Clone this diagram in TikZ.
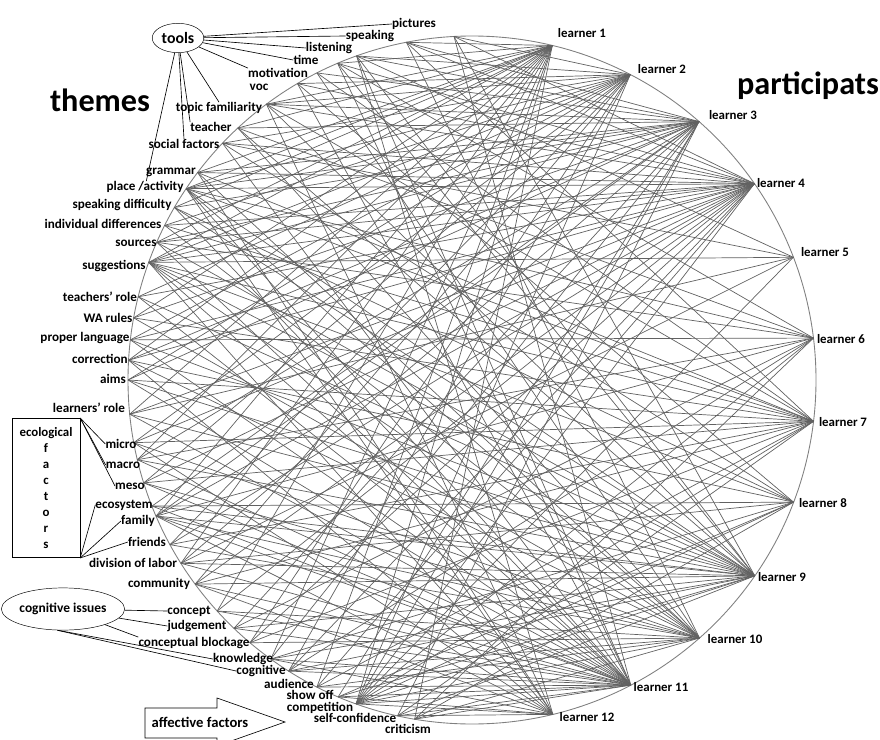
\documentclass[tikz,border=0pt]{standalone}
\usepackage{fontspec}
\setmainfont{Carlito}
\usetikzlibrary{shapes.geometric}

\begin{document}
\begin{tikzpicture}[x=0.03cm, y=-0.03cm,
  theme/.style={font=\bfseries\fontsize{11.2}{13}\selectfont, inner sep=0pt},
  learner/.style={font=\bfseries\fontsize{11}{13}\selectfont, inner sep=0.5pt},
  title/.style={font=\bfseries\fontsize{27.5}{32}\selectfont, inner sep=0pt},
  link/.style={draw=black!62, line width=0.6pt},
  rim/.style={draw=black!50, line width=0.75pt},
  tie/.style={draw=black, line width=0.55pt},
]
  \useasboundingbox (0,0) rectangle (880,740);

  % Ring
  \coordinate (c) at (472,380);
  \draw[rim] (c) circle [radius=344];

  % Points on the ring
  \foreach \k/\a in {1/76.5, 2/62.6, 3/48.7, 4/34.8, 5/20.9, 6/7, 7/-6.9,
                     8/-20.8, 9/-34.7, 10/-48.6, 11/-62.5, 12/-76.4}
    \path (c) ++(-\a:344) coordinate (l\k);
  \foreach \i/\a in {1/93, 2/101, 3/109.6, 4/113, 5/116.8, 6/120.5, 7/126.7,
                     8/132.9, 9/136.5, 10/142.9, 11/146.2, 12/149.9, 13/153.3,
                     14/156.4, 15/160, 16/166, 17/169.6, 18/173.3, 19/176.7,
                     20/180, 21/185.7, 22/190.5, 23/193.4, 24/197.4, 25/201.5,
                     26/203.3, 27/208.6, 28/212.2, 29/216.4, 30/222.2, 31/226.2,
                     32/229.8, 33/234.2, 34/237.8, 35/243.2, 36/247.1, 37/250.3,
                     38/257.5, 39/260.4}
    \path (c) ++(-\a:344) coordinate (t\i);

  % Links learner -- theme
  \foreach \t in {2,4,7,8,10,11,12,14,15,17,19,21,23,26,28,30,33,35,37,39} \draw[link] (l1) -- (t\t);
  \foreach \t in {1,3,6,7,9,11,13,15,16,18,20,22,24,27,29,32,34,37} \draw[link] (l2) -- (t\t);
  \foreach \t in {2,3,5,7,8,10,11,12,14,15,17,19,20,23,25,26,28,31,33,36,37,38} \draw[link] (l3) -- (t\t);
  \foreach \t in {1,2,4,6,7,9,10,11,13,14,15,16,18,19,21,22,24,26,27,29,30,32,34,35,37} \draw[link] (l4) -- (t\t);
  \foreach \t in {3,9,15,21,28,37} \draw[link] (l5) -- (t\t);
  \foreach \t in {4,8,11,14,18,23,26,31,34,37,39} \draw[link] (l6) -- (t\t);
  \foreach \t in {2,5,7,10,11,13,15,17,20,22,24,27,29,32,35,37,38} \draw[link] (l7) -- (t\t);
  \foreach \t in {6,9,12,15,19,25,28,33,36,37,39} \draw[link] (l8) -- (t\t);
  \foreach \t in {1,3,4,7,8,11,12,14,15,16,18,20,21,23,25,26,28,29,31,33,34,36,37,38} \draw[link] (l9) -- (t\t);
  \foreach \t in {2,5,8,10,11,13,15,17,19,22,24,26,27,30,32,34,35,37,39} \draw[link] (l10) -- (t\t);
  \foreach \t in {1,3,4,6,9,11,12,14,15,16,18,20,21,23,24,25,26,28,29,30,31,33,34,35,36,37,38,39} \draw[link] (l11) -- (t\t);
  \foreach \t in {3,7,10,11,15,19,22,26,29,33,36,37,38} \draw[link] (l12) -- (t\t);

  % Titles
  \node[title] (themes) at (100,100) {themes};
  \node[title] (participats) at (808,86) {participats};

  % Learners
  \node[learner] (lab1) at (582,33) {learner 1};
  \node[learner] (lab2) at (662,69) {learner 2};
  \node[learner] (lab3) at (733,115) {learner 3};
  \node[learner] (lab4) at (781,183) {learner 4};
  \node[learner] (lab5) at (825,252) {learner 5};
  \node[learner] (lab6) at (841,339) {learner 6};
  \node[learner] (lab7) at (843,422) {learner 7};
  \node[learner] (lab8) at (823,503) {learner 8};
  \node[learner] (lab9) at (782,577) {learner 9};
  \node[learner] (lab10) at (735,639) {learner 10};
  \node[learner] (lab11) at (661,687) {learner 11};
  \node[learner] (lab12) at (587,717) {learner 12};

  % Tools
  \node[ellipse, draw, minimum width=44pt, minimum height=25pt, inner sep=0pt,
        font=\bfseries\fontsize{13.5}{15}\selectfont] (tools) at (178,38) {tools};
  \node[theme] (pictures) at (414,24) {pictures};
  \node[theme] (speaking) at (370,36) {speaking};
  \node[theme] (listening) at (329,48) {listening};
  \node[theme] (time) at (306,60) {time};
  \node[theme] (motivation) at (278,73) {motivation};
  \node[theme] (voc) at (259,87) {voc};
  \node[theme] (topic) at (219,108) {topic familiarity};
  \node[theme] (teacher) at (211,127) {teacher};
  \node[theme] (social) at (184,144) {social factors};
  \node[theme] (grammar) at (171,172) {grammar};
  \node[theme] (place) at (145,187) {place /activity};
  \draw[tie] (tools) -- (pictures.west);
  \draw[tie] (tools) -- (speaking.west);
  \draw[tie] (tools) -- (listening.west);
  \draw[tie] (tools) -- (time.west);
  \draw[tie] (tools) -- (motivation.north west);
  \draw[tie] (tools) -- (topic.north);
  \draw[tie] (tools) -- (teacher.north west);
  \draw[tie] (tools) -- (social.north);
  \draw[tie] (tools) -- (place);

  % Themes
  \node[theme] (speakdiff) at (122,205) {speaking difficulty};
  \node[theme] (indiv) at (103,224) {individual differences};
  \node[theme] (sources) at (136,243) {sources};
  \node[theme] (suggest) at (114,266) {suggestions};
  \node[theme] (trole) at (100,297) {teachers' role};
  \node[theme] (warules) at (108,318) {WA rules};
  \node[theme] (proper) at (85,338) {proper language};
  \node[theme] (correction) at (100,359) {correction};
  \node[theme] (aims) at (113,379) {aims};
  \node[theme] (lrole) at (89,408) {learners' role};

  % Ecological factors
  \node[draw, minimum width=58pt, minimum height=119pt, inner sep=0pt, align=center,
        font=\bfseries\fontsize{11}{13.6}\selectfont] (eco) at (46,488)
        {ecological\\f\\a\\c\\t\\o\\r\\s};
  \node[theme] (micro) at (121,444) {micro};
  \node[theme] (macro) at (123,465) {macro};
  \node[theme] (meso) at (130,486) {meso};
  \node[theme] (ecosys) at (124,505) {ecosystem};
  \node[theme] (family) at (138,521) {family};
  \node[theme] (friends) at (147,542) {friends};
  \node[theme] (labor) at (133,563) {division of labor};
  \node[theme] (community) at (159,584) {community};
  \draw[tie] (eco.north east) -- (micro.west);
  \draw[tie] (eco.north east) -- (macro.west);
  \draw[tie] (eco.north east) -- (meso.west);
  \draw[tie] (eco.south east) -- (ecosys.west);
  \draw[tie] (eco.south east) -- (family.west);
  \draw[tie] (eco.south east) -- (friends.west);

  % Cognitive issues
  \node[ellipse, draw, minimum width=91pt, minimum height=36pt, inner sep=0pt,
        font=\bfseries\fontsize{11.5}{13}\selectfont] (cogissues) at (63,609) {cognitive issues};
  \node[theme] (concept) at (189,611) {concept};
  \node[theme] (judge) at (197,626) {judgement};
  \node[theme] (blockage) at (194,643) {conceptual blockage};
  \node[theme] (knowledge) at (243,659) {knowledge};
  \node[theme] (cognitive) at (261,671) {cognitive};
  \draw[tie] (cogissues) -- (concept.west);
  \draw[tie] (cogissues) -- (judge.west);
  \draw[tie] (cogissues) -- (blockage.north west);
  \draw[tie] (cogissues.255) -- (knowledge.west);
  \draw[tie] (cogissues.255) -- (cognitive.west);

  % Affective factors
  \node[theme] (audience) at (289,684) {audience};
  \node[theme] (showoff) at (310,695) {show off};
  \node[theme] (competition) at (320,708) {competition};
  \node[theme] (selfconf) at (355,718) {self-confidence};
  \node[theme] (criticism) at (408,729) {criticism};
  \draw[tie] (145,708) -- (217,708) -- (217,698) -- (285,722) -- (217,746)
    -- (217,738) -- (145,738) -- cycle;
  \node[font=\bfseries\fontsize{12.5}{14}\selectfont] (affective) at (200,722) {affective factors};
\end{tikzpicture}
\end{document}
